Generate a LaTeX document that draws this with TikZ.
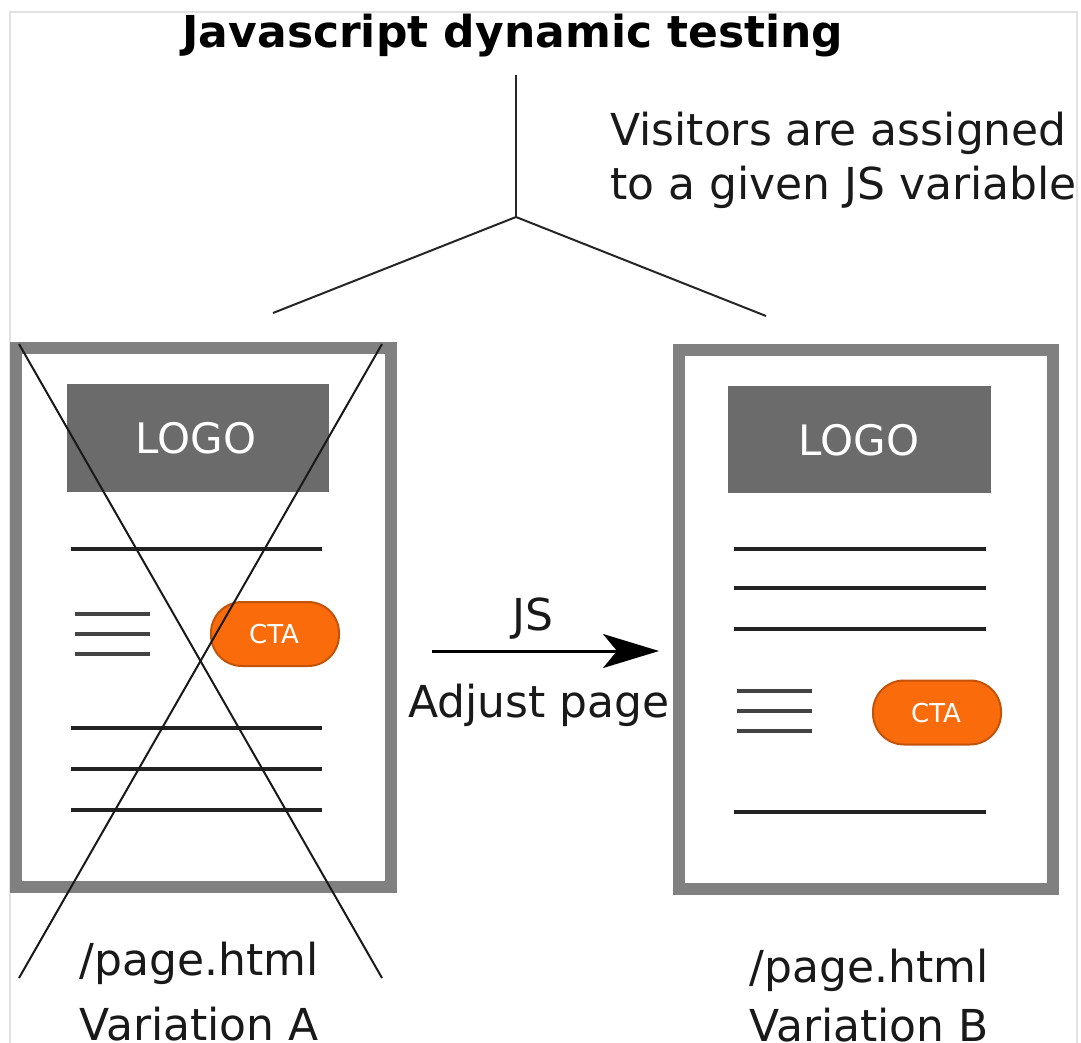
\documentclass[tikz,border=0pt]{standalone}
\usepackage{fontspec}
\setmainfont{DejaVu Sans}
\usetikzlibrary{arrows.meta}
\definecolor{pagegray}{HTML}{808080}
\definecolor{logogray}{HTML}{6B6B6B}
\definecolor{ctafill}{HTML}{F96B0B}
\definecolor{ctaedge}{HTML}{C4530A}
\definecolor{inkdark}{HTML}{222222}
\definecolor{framegray}{HTML}{E2E2E2}
\tikzset{
  pagebox/.style={draw=pagegray, line width=12pt, fill=white, inner sep=0pt},
  logobox/.style={fill=logogray, inner sep=0pt, minimum width=262pt, minimum height=108pt},
  logotext/.style={text=white, inner sep=0pt, anchor=base, font=\fontsize{42}{50}\selectfont},
  ctabox/.style={draw=ctaedge, line width=2pt, fill=ctafill, rounded corners=31pt, inner sep=0pt, minimum width=128pt, minimum height=64pt},
  ctatext/.style={text=white, inner sep=0pt, anchor=base, font=\fontsize{26}{30}\selectfont},
  bodyline/.style={draw=inkdark, line width=4pt},
  shortline/.style={draw=inkdark!85!white, line width=4pt},
  txt/.style={inner sep=0pt, text=black!90, font=\fontsize{44}{53}\selectfont},
  titletxt/.style={inner sep=0pt, text=black, font=\fontsize{44}{53}\selectfont\bfseries},
  treeline/.style={draw=black!85, line width=2pt},
  crossline/.style={draw=black!90, line width=2pt},
}
\begin{document}
\begin{tikzpicture}[x=1pt,y=-1pt]
\useasboundingbox (0,0) rectangle (1081,1043);
\fill[white] (0,0) rectangle (1081,1043);
\draw[framegray, line width=1.5pt] (10,1043) -- (10,12) -- (1077,12) -- (1077,1043);

% title and tree
\node[titletxt, anchor=base] (title) at (513,48) {Javascript dynamic testing};
\coordinate (treetop) at (516,75);
\coordinate (fork) at (516,217);
\coordinate (leftend) at (273,313);
\coordinate (rightend) at (766,316);
\draw[treeline] (treetop) -- (fork);
\draw[treeline] (fork) -- (leftend);
\draw[treeline] (fork) -- (rightend);
\node[txt, anchor=base west] (vis1) at (610,146) {Visitors are assigned};
\node[txt, anchor=base west] (vis2) at (610,200) {to a given JS variable};

% left page (variation A)
\node[pagebox, minimum width=375pt, minimum height=539pt] (pageA) at (203.5,617.5) {};
\node[logobox] (logoA) at (197.5,438) {};
\node[logotext] (logoAt) at (196,453) {LOGO};
\draw[bodyline] (71,549) -- (322,549);
\draw[shortline] (75,614) -- (150,614);
\draw[shortline] (75,634) -- (150,634);
\draw[shortline] (75,654) -- (150,654);
\node[ctabox] (ctaA) at (275,634) {};
\node[ctatext] (ctaAt) at (274,643) {CTA};
\draw[bodyline] (71,728) -- (322,728);
\draw[bodyline] (71,769) -- (322,769);
\draw[bodyline] (71,810) -- (322,810);
\coordinate (xA1) at (19,344);
\coordinate (xA2) at (382,978);
\coordinate (xB1) at (382,344);
\coordinate (xB2) at (19,978);
\draw[crossline] (xA1) -- (xA2);
\draw[crossline] (xB1) -- (xB2);
\node[txt, anchor=base] (pathA) at (199,975) {/page.html};
\node[txt, anchor=base] (varA) at (199,1040) {Variation A};

% arrow
\coordinate (arrS) at (432,651);
\coordinate (arrE) at (659,651);
\draw[draw=black, line width=3pt, -{Stealth[length=56pt,width=34pt,inset=14pt]}] (arrS) -- (arrE);
\node[txt, anchor=base] (js) at (533,630) {JS};
\node[txt, anchor=base] (adj) at (539,717) {Adjust page};

% right page (variation B)
\node[pagebox, minimum width=374pt, minimum height=539pt] (pageB) at (866,619.5) {};
\node[logobox, minimum width=263pt, minimum height=107pt] (logoB) at (859.5,439.5) {};
\node[logotext] (logoBt) at (859,455) {LOGO};
\draw[bodyline] (734,549) -- (986,549);
\draw[bodyline] (734,588) -- (986,588);
\draw[bodyline] (734,629) -- (986,629);
\draw[shortline] (737,691) -- (812,691);
\draw[shortline] (737,711) -- (812,711);
\draw[shortline] (737,731) -- (812,731);
\node[ctabox] (ctaB) at (937,712.5) {};
\node[ctatext] (ctaBt) at (936,722) {CTA};
\draw[bodyline] (734,812) -- (986,812);
\node[txt, anchor=base] (pathB) at (869,982) {/page.html};
\node[txt, anchor=base] (varB) at (869,1041) {Variation B};
\end{tikzpicture}
\end{document}
